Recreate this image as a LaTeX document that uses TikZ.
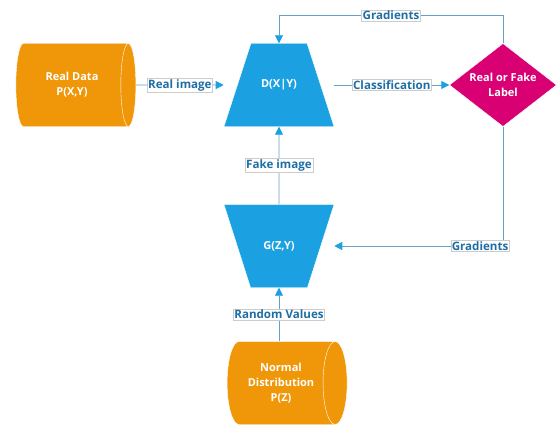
\documentclass[tikz,border=0pt]{standalone}
\usepackage{fontspec}
\setmainfont{Open Sans}
\definecolor{gnorange}{RGB}{240,150,9}
\definecolor{gnblue}{RGB}{27,161,226}
\definecolor{gnmagenta}{RGB}{216,0,115}
\definecolor{gnline}{RGB}{105,160,200}
\definecolor{gntext}{RGB}{30,110,165}
\usetikzlibrary{arrows.meta,shapes.geometric,calc}

\begin{document}
\begin{tikzpicture}[x=1pt,y=1pt,font=\fontsize{11}{15}\selectfont\bfseries,
  store/.style={cylinder,shape border rotate=0,aspect=0.6,draw=white,fill=gnorange,text=white,minimum width=83pt,minimum height=120pt,align=center,inner sep=0pt},
  net/.style={trapezium,trapezium stretches body,trapezium angle=72,draw=white,fill=gnblue,text=white,inner xsep=2pt,inner ysep=36pt,minimum width=110pt,minimum height=83pt},
  flow/.style={gnline,line width=0.8pt,-{Triangle[length=8pt,width=8pt,color=gnblue]}},
  lbl/.style={draw=black!20,line width=0.5pt,fill=white,text=gntext,inner sep=1pt,font=\fontsize{11.6}{14}\selectfont\bfseries}]
  \useasboundingbox (0,0) rectangle (557,424);
  % data sources
  \node[store] (real) at (72,339) {Real Data\\P(X,Y)};
  \node[store] (norm) at (281,41) {Normal\\Distribution\\P(Z)};
  % discriminator and generator
  \node[net] (d) at (279,339) {D(X|Y)};
  \node[net,shape border rotate=180] (g) at (279,178) {G(Z,Y)};
  \node[diamond,aspect=1.3,inner sep=0pt,draw=white,fill=gnmagenta,text=white,minimum width=107pt,minimum height=83pt,align=center] (cls) at (503,339) {Real or Fake\\Label};
  \draw[flow] (real.east) -- node[lbl]{Real image} (d.bottom left corner |- d.center);
  \draw[flow] (d.bottom right corner |- d.center) -- node[lbl]{Classification} (cls.west);
  \draw[flow] (g.north) -- node[lbl]{Fake image} (d.south);
  \draw[flow] (norm.north -| g.south) -- node[lbl]{Random Values} (g.south);
  % feedback loops
  \draw[flow] (cls.north) -- ++(0,28) -| node[lbl,pos=0.25]{Gradients} (d.north);
  \draw[flow] (cls.south) |- node[lbl,pos=0.568]{Gradients} (g.bottom left corner |- g.center);
\end{tikzpicture}
\end{document}
